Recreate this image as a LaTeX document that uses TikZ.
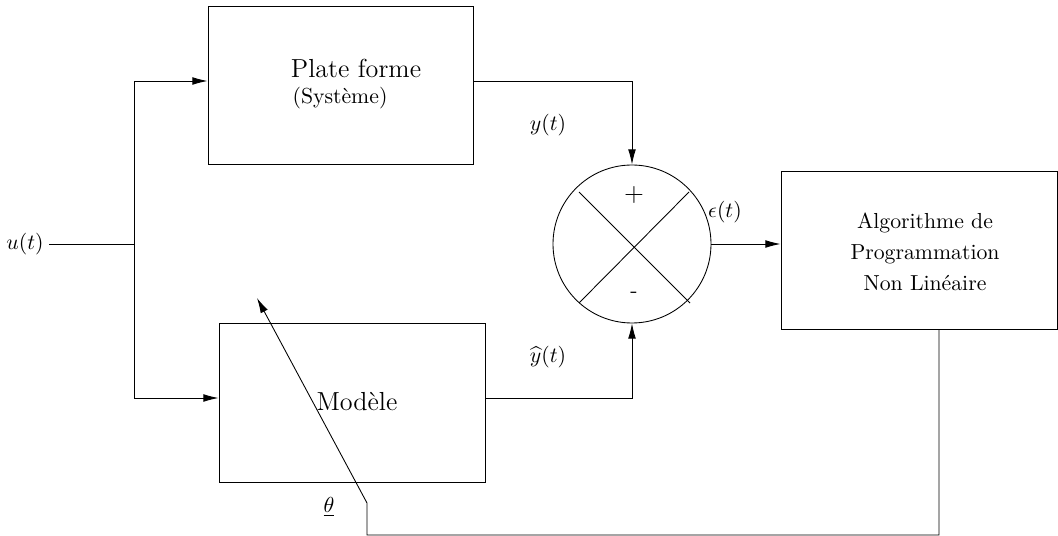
\documentclass[tikz,border=0pt]{standalone}
\usetikzlibrary{arrows.meta}
\begin{document}
\begin{tikzpicture}[x=0.46pt,y=-0.46pt,
  blk/.style={draw, rectangle, inner sep=0pt},
  arr/.style={-{Latex[length=7pt,width=3.6pt]}},
  lbl/.style={inner sep=0pt}]
\useasboundingbox (0,0) rectangle (1058,536);
% blocks
\node[blk, minimum width=121.9pt, minimum height=72.68pt] (plate) at (340.5,85) {};
\node[blk, minimum width=122.36pt, minimum height=73.14pt] (model) at (352,402.5) {};
\node[blk, minimum width=126.96pt, minimum height=72.68pt] (algo) at (919,250) {};
\node[draw, circle, inner sep=0pt, minimum size=72.68pt] (sum) at (632,244) {};
% texts
\node[lbl, font=\large] (tplate) at (356,68) {Plate forme};
\node[lbl] (tsys) at (340,98) {(Système)};
\node[lbl, font=\large] (tmodel) at (357,402) {Modèle};
\node[lbl, align=center] (talgo) at (925,252) {Algorithme de\\[2.3pt]Programmation\\[2.3pt]Non Linéaire};
\node[lbl, font=\large] (plus) at (634,195) {$+$};
\node[lbl] (minus) at (634,295) {-};
\node[lbl] (lu) at (25,244) {$u(t)$};
\node[lbl] (ly) at (548,125) {$y(t)$};
\node[lbl] (lyh) at (548,357) {$\widehat{y}(t)$};
\node[lbl] (leps) at (725,212) {$\epsilon(t)$};
\node[lbl] (ltheta) at (329,507) {$\underline{\theta}$};
% cross in the summing junction
\coordinate (c1) at (579,192);
\coordinate (c2) at (690,303);
\coordinate (c3) at (689,192);
\coordinate (c4) at (579,303);
\draw (c1) -- (c2);
\draw (c3) -- (c4);
% coordinates
\coordinate (in) at (49,244);
\coordinate (j) at (134,244);
\coordinate (j1) at (134,81);
\coordinate (j2) at (134,398);
\coordinate (f1) at (939,535);
\coordinate (f2) at (367,535);
\coordinate (f3) at (367,503);
\coordinate (tip) at (257,298);
% connectors
\draw (in) -- (j);
\draw[arr] (j) -- (j1) -- (j1 -| plate.west);
\draw[arr] (j) -- (j2) -- (j2 -| model.west);
\draw[arr] (plate.east |- j1) -| (sum.north);
\draw[arr] (model.east |- j2) -| (sum.south);
\draw[arr] (sum.east) -- (algo.west |- sum.east);
\draw[arr] (algo.south -| f1) -- (f1) -- (f2) -- (f3) -- (tip);
\end{tikzpicture}
\end{document}
